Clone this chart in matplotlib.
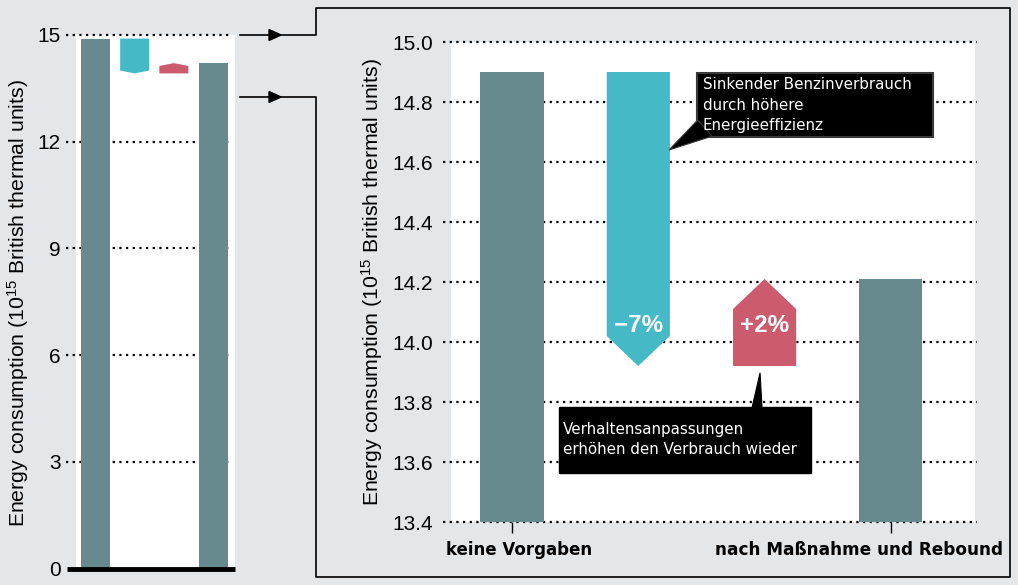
import matplotlib
matplotlib.use("Agg")
import matplotlib.pyplot as plt
from matplotlib.patches import Polygon, Rectangle
from matplotlib.lines import Line2D

# data
categories = ["keine Vorgaben", "nach Maßnahme und Rebound"]
start_value = 14.9        # keine Vorgaben
after_efficiency = 13.92  # after -7 %
end_value = 14.21         # nach Maßnahme und Rebound
change_labels = ["\u22127%", "+2%"]
left_ticks = [0, 3, 6, 9, 12, 15]
right_ticks = [13.4, 13.6, 13.8, 14.0, 14.2, 14.4, 14.6, 14.8, 15.0]
note_efficiency = "Sinkender Benzinverbrauch\ndurch höhere\nEnergieeffizienz"
note_rebound = "Verhaltensanpassungen\nerhöhen den Verbrauch wieder"
ylabel = "Energy consumption (10$^{15}$ British thermal units)"

BG = "#e3e7ea"
GREY = "#678a8f"
CYAN = "#45b9c6"
RED = "#cc5b6e"
W, H = 1018, 585

plt.rcParams["font.family"] = ["Liberation Sans", "DejaVu Sans"]
plt.rcParams["mathtext.fontset"] = "custom"
plt.rcParams["mathtext.rm"] = "Liberation Sans"
plt.rcParams["mathtext.it"] = "Liberation Sans"

fig = plt.figure(figsize=(W / 100, H / 100), dpi=100, facecolor=BG)


def px_axes(x0, y0, x1, y1):
    # pixel box (top-left origin) -> axes
    return fig.add_axes([x0 / W, 1 - y1 / H, (x1 - x0) / W, (y1 - y0) / H])


def fig_xy(x, y):
    return x / W, 1 - y / H


def waterfall(ax, width, tip):
    ax.bar([0, 3], [start_value, end_value], width=width, color=GREY, zorder=2)
    hw = width / 2
    # falling arrow (efficiency)
    ax.add_patch(Polygon([(1 - hw, start_value), (1 + hw, start_value),
                          (1 + hw, after_efficiency + tip), (1, after_efficiency),
                          (1 - hw, after_efficiency + tip)],
                         closed=True, color=CYAN, lw=0, zorder=2))
    # rising arrow (rebound)
    ax.add_patch(Polygon([(2 - hw, after_efficiency), (2 + hw, after_efficiency),
                          (2 + hw, end_value - tip), (2, end_value),
                          (2 - hw, end_value - tip)],
                         closed=True, color=RED, lw=0, zorder=2))


def style(ax, ticks, ylim, xlim, gx0, gx1, pad):
    ax.set_facecolor("white")
    ax.set_xlim(*xlim)
    ax.set_ylim(*ylim)
    for s in ax.spines.values():
        s.set_visible(False)
    ax.set_yticks(ticks)
    ax.tick_params(axis="y", length=0, pad=pad, labelsize=15)
    ax.hlines(ticks, gx0, gx1, transform=ax.get_yaxis_transform(), colors="black",
              linestyles=(0, (1, 2)), lw=1.6, clip_on=False, zorder=1)


# ---- left overview chart
axl = px_axes(76, 35, 235, 568.5)
style(axl, left_ticks[1:], (0, 15), (-0.497, 3.56), -0.063, 0.98, 11)
axl.set_yticks(left_ticks)
axl.set_xticks([])
axl.hlines(0, -0.057, 1.0, transform=axl.get_yaxis_transform(), colors="black",
           lw=3.5, clip_on=False, zorder=3)
waterfall(axl, 0.74, 0.08)

# ---- right zoomed chart
axr = px_axes(451, 42, 975, 522)
style(axr, right_ticks, (13.4, 15.0), (-0.483, 3.666), -0.015, 1.004, 13)
axr.set_yticklabels([f"{t:.1f}" for t in right_ticks])
axr.set_xticks([0, 3])
axr.set_xticklabels([])
axr.tick_params(axis="x", length=8, width=1, color="black", direction="out")
waterfall(axr, 0.5, 0.1)

axr.text(0.13, -0.058, categories[0], transform=axr.transAxes, ha="center", va="center",
         fontsize=12, fontweight="bold", family="DejaVu Sans")
axr.text(1.053, -0.058, categories[1], transform=axr.transAxes, ha="right", va="center",
         fontsize=12.2, fontweight="bold", family="DejaVu Sans")

for x, lab in zip([1, 2], change_labels):
    axr.text(x, 14.055, lab, ha="center", va="center", color="white", fontsize=17.5,
             fontweight="bold", family="Liberation Sans", zorder=4)

# callouts
axr.add_patch(Rectangle((1.465, 14.683), 1.868, 0.214, facecolor="black",
                        edgecolor="#3a3a3a", lw=1.5, zorder=5))
axr.add_patch(Polygon([(1.243, 14.64), (1.47, 14.74), (1.584, 14.686)], closed=True,
                      facecolor="black", edgecolor="#3a3a3a", lw=0.8, zorder=5))
axr.text(1.512, 14.79, note_efficiency, color="white", fontsize=10.9, ha="left",
         va="center", linespacing=1.45, family="DejaVu Sans", zorder=6)

axr.add_patch(Rectangle((0.372, 13.563), 1.995, 0.22, facecolor="black",
                        edgecolor="black", lw=1, zorder=5))
axr.add_patch(Polygon([(1.964, 13.897), (1.90, 13.78), (1.98, 13.78)], closed=True,
                      facecolor="black", edgecolor="black", lw=0.8, zorder=5))
axr.text(0.404, 13.675, note_rebound, color="white", fontsize=10.9, ha="left",
         va="center", linespacing=1.45, family="DejaVu Sans", zorder=6)

# y labels
fig.text(*fig_xy(18, 303), ylabel, rotation=90, ha="center", va="center", fontsize=15.3)
fig.text(*fig_xy(372, 282), ylabel, rotation=90, ha="center", va="center", fontsize=15.3)

# connector lines and frame
frame = [(240, 35), (316, 35), (316, 8), (1010, 8), (1010, 577), (316, 577), (316, 97), (240, 97)]
fx, fy = zip(*[fig_xy(x, y) for x, y in frame])
fig.add_artist(Line2D(fx, fy, color="black", lw=1.2, transform=fig.transFigure))
for y in (35, 97):
    tri = [fig_xy(269, y - 5.5), fig_xy(281, y), fig_xy(269, y + 5.5)]
    fig.add_artist(Polygon(tri, closed=True, color="black", transform=fig.transFigure))

fig.savefig("out.png", dpi=100, facecolor=BG)
